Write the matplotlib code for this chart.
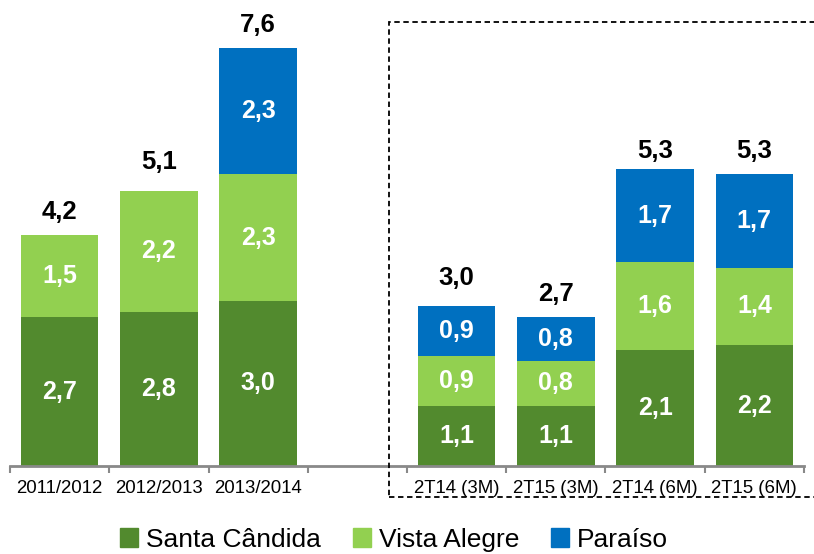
import numpy as np
import matplotlib.pyplot as plt
from matplotlib.patches import Patch, Rectangle

plt.rcParams['font.family'] = ['Liberation Sans', 'DejaVu Sans']

categories = ["2011/2012", "2012/2013", "2013/2014", "",
              "2T14 (3M)", "2T15 (3M)", "2T14 (6M)", "2T15 (6M)"]
santa_candida = [2.7, 2.8, 3.0, 0, 1.1, 1.1, 2.1, 2.2]
vista_alegre = [1.5, 2.2, 2.3, 0, 0.9, 0.8, 1.6, 1.4]
paraiso = [0, 0, 2.3, 0, 0.9, 0.8, 1.7, 1.7]
totals = [4.2, 5.1, 7.6, None, 3.0, 2.7, 5.3, 5.3]

series = [("Santa Cândida", santa_candida, "#528a2e"),
          ("Vista Alegre", vista_alegre, "#92d050"),
          ("Paraíso", paraiso, "#0070c0")]

fig = plt.figure(figsize=(8.14, 5.54), dpi=100)
ax = fig.add_axes([0.0123, 0.1588, 0.9754, 0.8412])

x = np.arange(len(categories))
bottom = np.zeros(len(categories))
for name, vals, col in series:
    vals = np.array(vals, dtype=float)
    ax.bar(x, vals, 0.78, bottom=bottom, color=col, label=name)
    for xi, b, v in zip(x, bottom, vals):
        if v > 0:
            ax.text(xi, b + v / 2, f"{v:.1f}".replace(".", ","), ha="center", va="center",
                    color="white", fontsize=18, fontweight="bold")
    bottom += vals

for xi, t in zip(x, totals):
    if t is not None:
        ax.annotate(f"{t:.1f}".replace(".", ","), (xi, t), xytext=(0, 8),
                    textcoords="offset points", ha="center", va="bottom",
                    fontsize=18.5, fontweight="bold", color="black")

ax.set_xlim(-0.5, len(categories) - 0.5)
ax.set_ylim(0, 8.47)
ax.set_xticks(x)
ax.set_xticklabels(categories, fontsize=13.4)
ax.tick_params(axis="x", which="major", length=0, pad=10)
ax.set_xticks(np.arange(-0.5, len(categories)), minor=True)
ax.tick_params(axis="x", which="minor", length=5, width=1.5, color="#898989", direction="out")
ax.set_yticks([])
for s in ["top", "right", "left"]:
    ax.spines[s].set_visible(False)
ax.spines["bottom"].set_color("#898989")
ax.spines["bottom"].set_linewidth(2)

# dashed frame around the quarterly group, running off the right edge
box = Rectangle((389 / 814, 57 / 554), (840 - 389) / 814, (497 - 22) / 554,
                transform=fig.transFigure, fill=False, edgecolor="black",
                linestyle=(0, (3, 2)), linewidth=1.3, clip_on=False)
fig.patches.append(box)

handles = [Patch(color=c, label=n) for n, _, c in series]
fig.legend(handles=handles, loc="center", bbox_to_anchor=(0.484, 0.026), ncol=3,
           frameon=False, fontsize=19, handlelength=0.7, handleheight=0.7,
           handletextpad=0.3, columnspacing=1.2, borderaxespad=0)

fig.savefig("out.png", dpi=100)
